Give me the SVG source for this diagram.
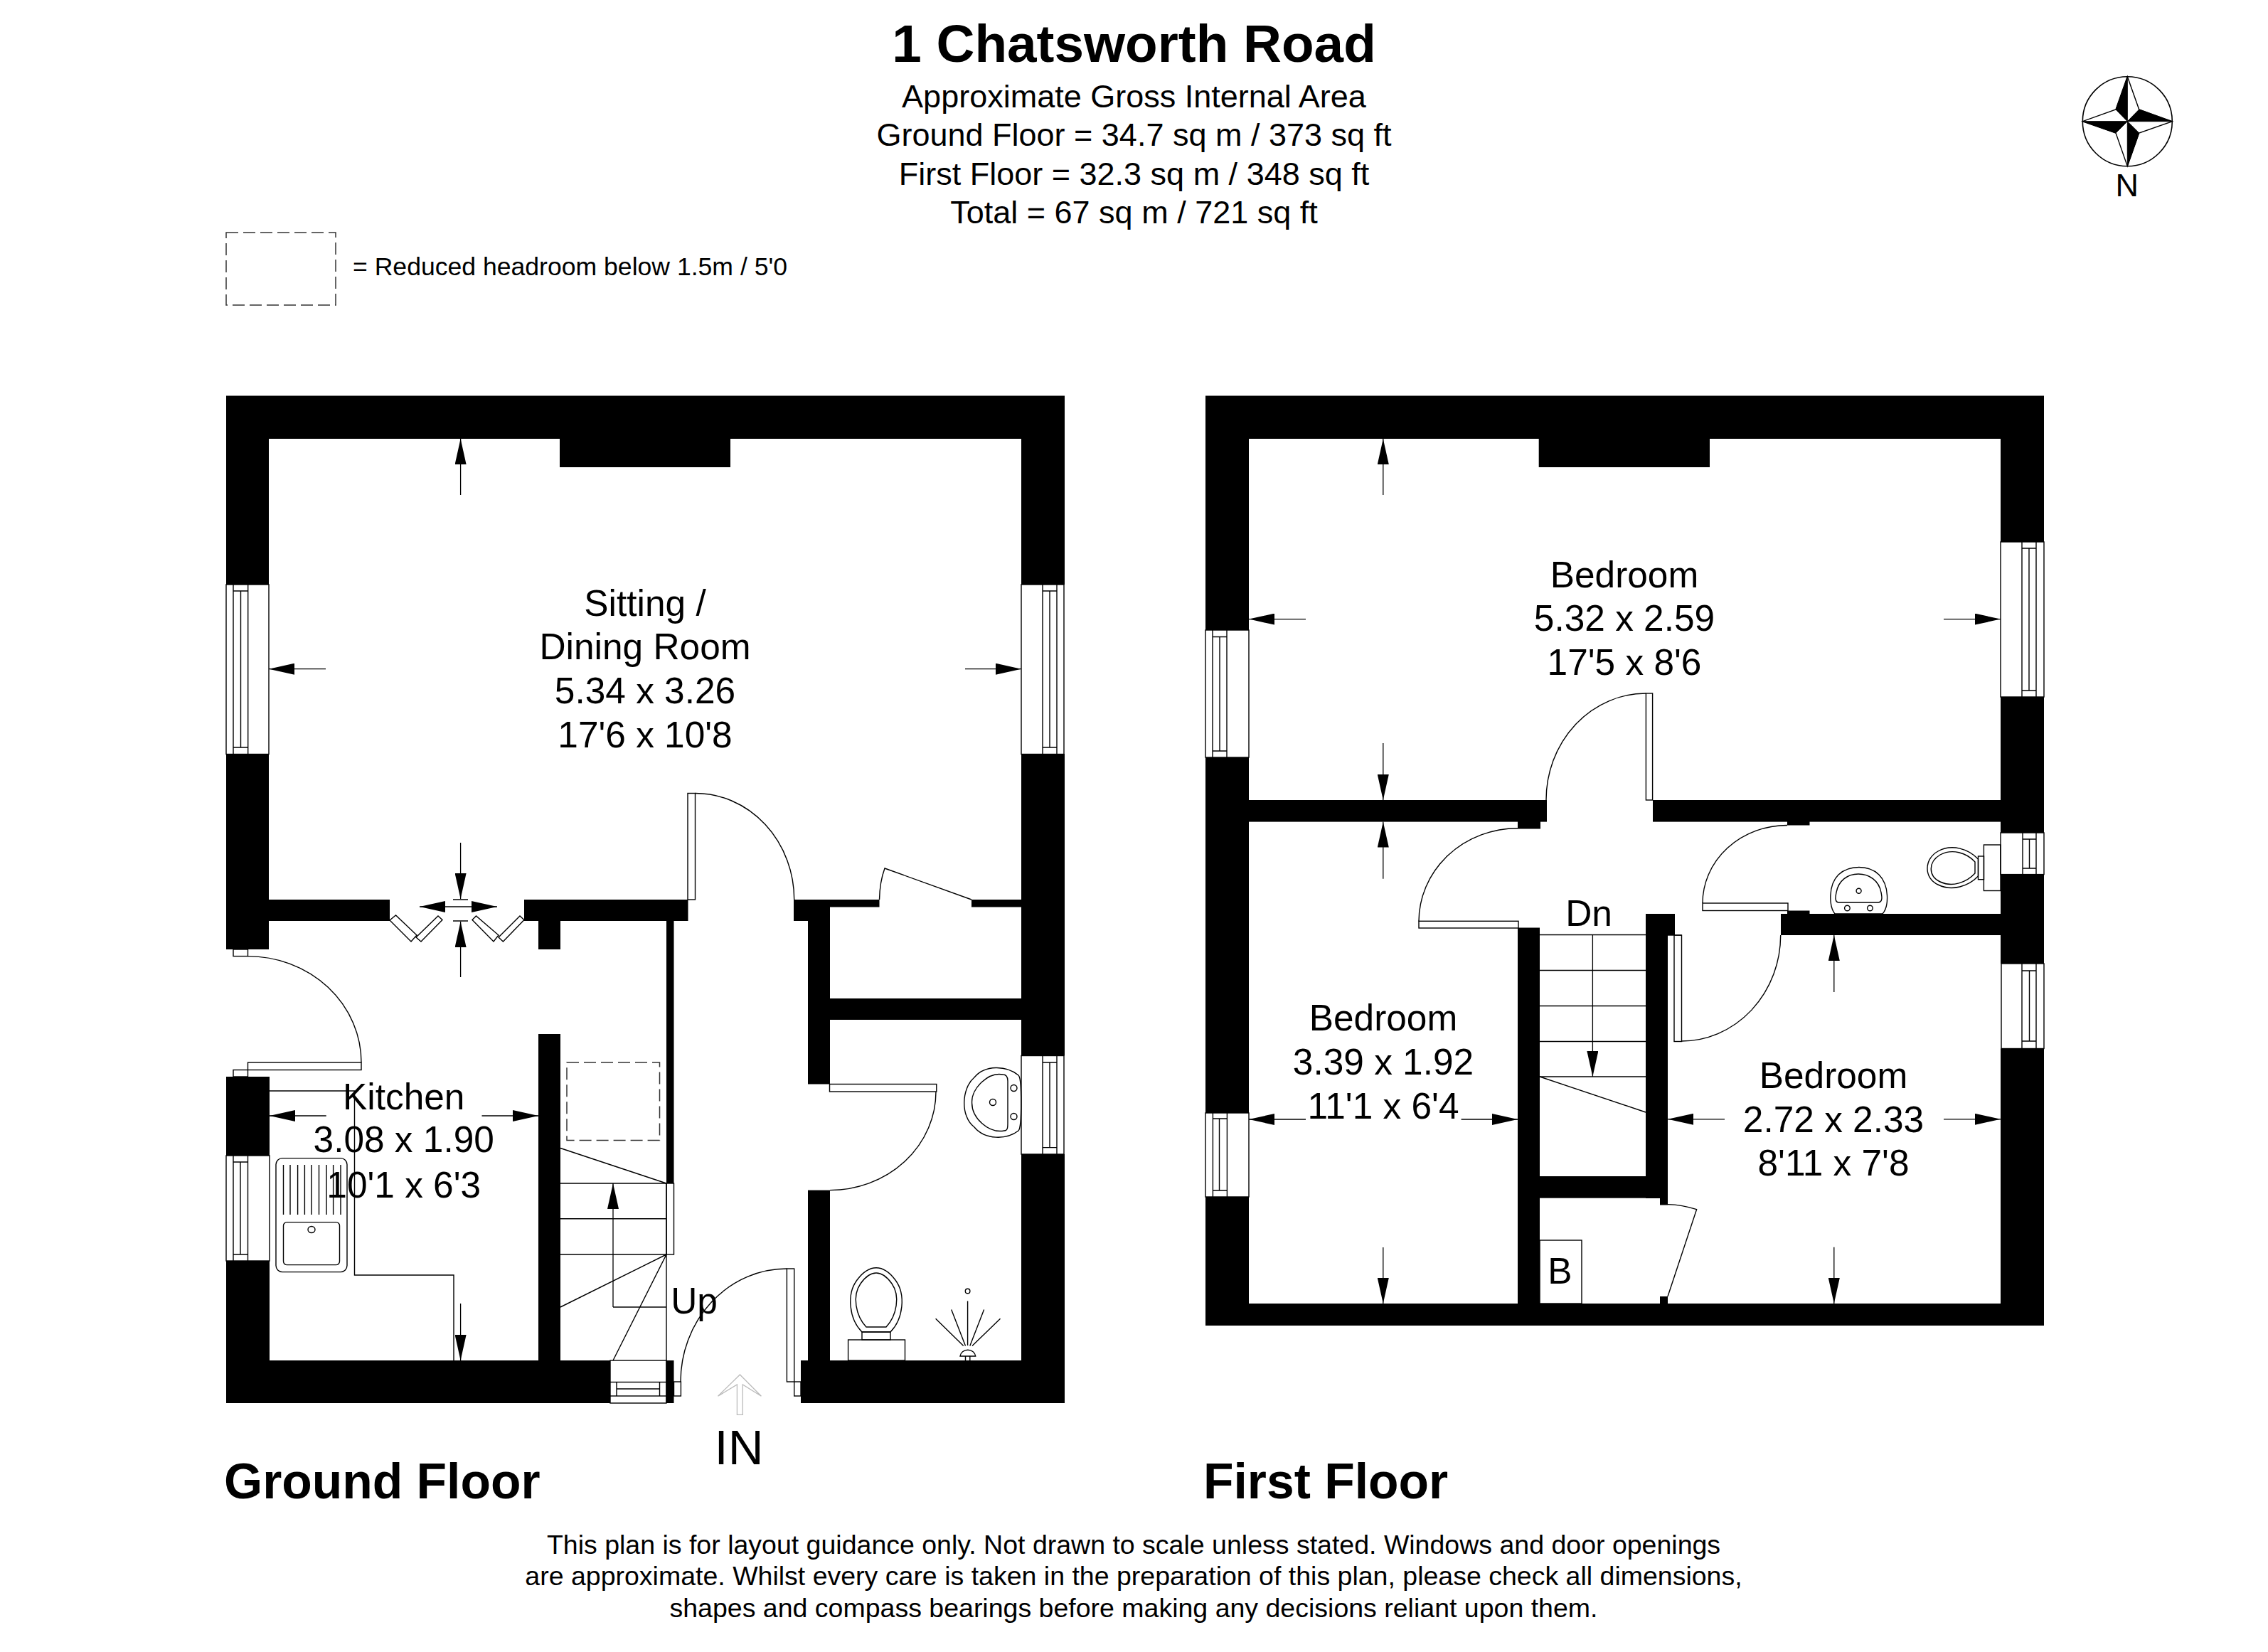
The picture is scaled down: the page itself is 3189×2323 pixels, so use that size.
<svg xmlns="http://www.w3.org/2000/svg" width="3189" height="2323" viewBox="0 0 3189 2323">
<style>
text{font-family:"Liberation Sans",Arial,sans-serif;fill:#000;text-anchor:middle}
.room{font-size:51.400px}
.sub{font-size:45px}
.foot{font-size:37.500px}
.key{font-size:35.600px;text-anchor:start}
.head{font-size:69.600px;font-weight:bold;text-anchor:start}
.wall rect{fill:#000}
.l,.l *{fill:none;stroke:#000;stroke-width:1.4}
.f,.f *{fill:#fff;stroke:#000;stroke-width:1.4}
.d{fill:none;stroke:#333;stroke-width:1.5;stroke-dasharray:17 7}
.dim{fill:none;stroke:#000;stroke-width:1.3;marker-end:url(#ah)}
</style>
<defs>
<marker id="ah" markerUnits="userSpaceOnUse" markerWidth="36" markerHeight="16" refX="36" refY="8" orient="auto"><path d="M0,0L36,8L0,16z" fill="#000"/></marker>
</defs>
<rect width="3189" height="2323" fill="#fff"/>

<g id="title">
<text x="1594.500" y="87" font-size="74.700" font-weight="bold">1 Chatsworth Road</text>
<text class="sub" x="1594.500" y="151">Approximate Gross Internal Area</text>
<text class="sub" x="1594.500" y="205">Ground Floor = 34.7 sq m / 373 sq ft</text>
<text class="sub" x="1594.500" y="260">First Floor = 32.3 sq m / 348 sq ft</text>
<text class="sub" x="1594.500" y="314">Total = 67 sq m / 721 sq ft</text>
</g>

<g id="legend">
<rect class="d" x="318" y="327" width="154" height="102"/>
<text class="key" x="496" y="387">= Reduced headroom below 1.5m / 5'0</text>
</g>

<g id="compass">
<circle cx="2991.300" cy="170.700" r="63" fill="none" stroke="#000" stroke-width="1.600"/>
<path d="M2991.300,107.700L2975,154L2928.300,170.700L2975,187L2991.300,233.700L3007.700,187L3054.300,170.700L3007.700,154Z" fill="#fff" stroke="#000" stroke-width="1.400"/>
<path d="M2991.300,107.700L2975,154L2991.300,170.700ZM2991.300,170.700L3007.700,154L3054.300,170.700ZM2991.300,170.700L3007.700,187L2991.300,233.700ZM2991.300,170.700L2975,187L2928.300,170.700Z" fill="#000" stroke="#000" stroke-width="1"/>
<text x="2990.700" y="276" font-size="45">N</text>
</g>

<g id="ground-floor">
<g class="wall">
<rect x="318" y="556.500" width="1179" height="60.500"/>
<rect x="318" y="617" width="60" height="205"/>
<rect x="318" y="1060" width="60" height="275"/>
<rect x="318" y="1514" width="61" height="111"/>
<rect x="318" y="1773" width="61" height="140"/>
<rect x="1436" y="617" width="61" height="205"/>
<rect x="1436" y="1060" width="61" height="424.500"/>
<rect x="1436" y="1623" width="61" height="290"/>
<rect x="318" y="1913" width="540" height="60"/>
<rect x="937" y="1913" width="10.500" height="60"/>
<rect x="1126" y="1913" width="371" height="60"/>
<rect x="787" y="617" width="240" height="40"/>
<rect x="318" y="1265" width="230" height="30"/>
<rect x="737" y="1265" width="230.500" height="30"/>
<rect x="757" y="1295" width="31" height="40"/>
<rect x="937" y="1295" width="10.500" height="369"/>
<rect x="757" y="1454" width="31" height="459"/>
<rect x="1116" y="1265" width="20" height="30"/>
<rect x="1116" y="1265" width="120.500" height="10.500"/>
<rect x="1366" y="1265" width="70" height="10.500"/>
<rect x="1136" y="1265" width="31" height="259.500"/>
<rect x="1136" y="1404" width="361" height="30"/>
<rect x="1136" y="1673.600" width="31" height="239.400"/>
</g>
<g id="gf-windows" class="f">
<rect x="318" y="822" width="60" height="238.500"/><rect x="328" y="822" width="20.700" height="238.500"/><path d="M338.500,831V1051M328,831H348.700M328,1051H348.700" fill="none"/>
<rect x="1436" y="822" width="60" height="238.500"/><rect x="1466" y="822" width="20" height="238.500"/><path d="M1476,831V1051M1466,831H1486M1466,1051H1486" fill="none"/>
<rect x="1436" y="1484.500" width="60" height="138.500"/><rect x="1466" y="1484.500" width="20" height="138.500"/><path d="M1476,1494V1613.600M1466,1494H1486M1466,1613.600H1486" fill="none"/>
<rect x="318" y="1625" width="61" height="148"/><rect x="328" y="1625" width="20.500" height="148"/><path d="M338,1634V1764M328,1634H348.500M328,1764H348.500" fill="none"/>
<rect x="858" y="1913" width="79" height="60"/><rect x="858" y="1943.500" width="79" height="19.500"/><path d="M867,1953H927.500M867,1943.500V1963M927.500,1943.500V1963" fill="none"/>
</g>
<g id="gf-doors">
<g class="f">
<rect x="328" y="1335" width="20.500" height="9.600"/>
<rect x="328" y="1504.500" width="20.500" height="9.500"/>
<rect x="348.500" y="1494" width="159.500" height="10.500"/>
<rect x="967" y="1115.500" width="10.500" height="149.500"/>
<rect x="1166.500" y="1524.500" width="150.300" height="10.500"/>
<rect x="1106.400" y="1784" width="10.300" height="159"/>
<rect x="1116.700" y="1943" width="9.300" height="20"/>
<rect x="947.500" y="1943" width="9.900" height="20"/>
<path d="M548,1294L578,1324L586,1315L556.500,1287Z"/>
<path d="M592,1324L622,1293.600L616,1288L585,1318Z"/>
<path d="M664,1293.600L694,1324L701,1315L669.500,1288Z"/>
<path d="M707.400,1324L737,1293.600L731,1288L701,1318Z"/>
</g>
<g class="l">
<path d="M348.500,1344.600A159.500,149.400 0 0 1 508,1494"/>
<path d="M977.500,1115.500A139.200,149.500 0 0 1 1116.700,1265"/>
<path d="M1316,1535A149,138.600 0 0 1 1167,1673.600"/>
<path d="M1106.400,1784A149.400,159 0 0 0 957,1943"/>
<path d="M1236.500,1265Q1237,1240 1244,1221L1366,1265"/>
</g>
</g>
<g id="gf-stairs" class="l">
<path d="M788,1664H937M788,1713.700H937M788,1764H937"/>
<path d="M788,1614.500L937,1664M788,1838L937,1764M862,1913L937,1764M937,1664V1973"/>
<rect x="937" y="1664" width="10.500" height="100"/>
<path d="M937,1838H862"/>
</g>
<rect id="gf-cupboard" class="d" x="797" y="1494" width="130.500" height="109.600"/>
<g id="gf-kitchen" class="l">
<path d="M379,1534H498.500V1793H638V1913"/>
<rect x="388" y="1628.600" width="100" height="160" rx="9"/>
<rect x="398.500" y="1718.600" width="79" height="60" rx="5"/>
<ellipse cx="438" cy="1729" rx="5" ry="4.500"/>
<path d="M398.500,1638V1708M408,1638V1708M418.600,1638V1708M428.400,1638V1708M438,1638V1708M448.500,1638V1708M459,1638V1708M468.600,1638V1708M479,1638V1708"/>
</g>
<g id="gf-bathroom" class="l">
<rect x="1192.600" y="1884" width="79.900" height="29"/>
<rect x="1212" y="1873" width="40" height="11"/>
<path d="M1212,1873C1194,1855 1190,1820 1205,1800C1222,1777 1242,1777 1259,1800C1274,1820 1270,1855 1252,1873Z"/>
<path d="M1218,1866C1203,1850 1198,1822 1210,1805C1224,1785 1240,1785 1254,1805C1266,1822 1261,1850 1246,1866Z"/>
<path d="M1360.600,1829.400V1892M1357.500,1892.400L1337.700,1841.500M1354.700,1892.400L1315.600,1854.200M1363.800,1892.400L1383.600,1841.500M1367,1892.400L1406.500,1854.200"/>
<path d="M1350,1907A10.900,9.700 0 0 1 1371.700,1907ZM1357.500,1907V1913M1363.800,1907V1913"/>
<circle cx="1360.600" cy="1815.500" r="3.300"/>
<path d="M1432,1512C1415,1498 1385,1497 1370,1515C1352,1530 1350,1570 1370,1585C1385,1603 1415,1603 1432,1590C1437,1585 1437,1516 1432,1512Z"/>
<path d="M1410,1511C1390,1507 1366,1530 1366.600,1550C1366,1572 1390,1594 1412,1590C1417,1590 1417,1585 1417,1580V1520C1417,1514 1415,1511 1410,1511Z"/>
<circle cx="1425.500" cy="1530" r="4.500"/><circle cx="1425.500" cy="1570" r="4.500"/><circle cx="1396" cy="1550" r="4.500"/>
</g>
<g id="gf-dimensions">
<path class="dim" d="M647.600,696V617"/>
<path class="dim" d="M458,940.700H378"/>
<path class="dim" d="M1357,940.700H1436"/>
<path class="dim" d="M647.600,1185V1264"/>
<path class="dim" d="M647.600,1374V1296"/>
<path class="dim" d="M644,1275H590"/>
<path class="dim" d="M644,1275H699"/>
<path class="l" d="M637,1265H658M637,1295H658"/>
<path class="dim" d="M458.700,1569H379"/>
<path class="dim" d="M677.500,1569H757"/>
<path class="dim" d="M862,1838V1664"/>
<path class="dim" d="M647.600,1833V1913"/>
</g>
<path id="in-arrow" d="M1040.400,1933L1009.500,1963.300L1036.400,1947V1989.400H1044.300V1947L1070.400,1963.300Z" fill="#fff" stroke="#bbb" stroke-width="1.300"/>
<g id="gf-labels">
<text class="room" x="907" y="866">Sitting /</text>
<text class="room" x="907" y="927">Dining Room</text>
<text class="room" x="907" y="989">5.34 x 3.26</text>
<text class="room" x="907" y="1051">17'6 x 10'8</text>
<text class="room" x="567.700" y="1560">Kitchen</text>
<text class="room" x="567.700" y="1620">3.08 x 1.90</text>
<text class="room" x="567.700" y="1683.500">10'1 x 6'3</text>
<text class="room" x="976" y="1847">Up</text>
<text x="1039" y="2059" font-size="69">IN</text>
<text class="head" x="315" y="2107">Ground Floor</text>
</g>
</g>

<g id="first-floor">
<g class="wall">
<rect x="1695" y="556.500" width="1179" height="60.500"/>
<rect x="1695" y="617" width="61" height="269"/>
<rect x="1695" y="1065" width="61" height="500"/>
<rect x="1695" y="1683" width="61" height="150"/>
<rect x="2813" y="617" width="61" height="145"/>
<rect x="2813" y="980" width="61" height="191"/>
<rect x="2813" y="1229.600" width="61" height="125.400"/>
<rect x="2813" y="1474.500" width="61" height="359"/>
<rect x="1695" y="1833" width="1179" height="31"/>
<rect x="2163.700" y="617" width="240.300" height="40"/>
<rect x="1695" y="1125" width="480" height="30.600"/>
<rect x="2324" y="1125" width="550" height="30.600"/>
<rect x="2134" y="1155" width="32" height="10.500"/>
<rect x="2134" y="1304.500" width="31" height="529"/>
<rect x="2314" y="1285" width="41" height="30"/>
<rect x="2314" y="1315" width="31" height="370"/>
<rect x="2134" y="1654" width="211" height="30.700"/>
<rect x="2513" y="1155" width="31.500" height="5.500"/>
<rect x="2513" y="1280.500" width="31.500" height="5"/>
<rect x="2504" y="1285" width="370" height="30"/>
<rect x="2334" y="1684" width="11" height="10.500"/>
<rect x="2334" y="1823" width="11" height="10"/>
</g>
<g id="ff-windows" class="f">
<rect x="1695" y="886" width="61" height="179"/><rect x="1705" y="886" width="20" height="179"/><path d="M1715,895.500V1056M1705,895.500H1725M1705,1056H1725" fill="none"/>
<rect x="2813" y="762" width="61" height="218"/><rect x="2843" y="762" width="20" height="218"/><path d="M2853,771V971M2843,771H2863M2843,971H2863" fill="none"/>
<rect x="2813" y="1171" width="61" height="58.600"/><rect x="2844" y="1171" width="19" height="58.600"/><path d="M2853.500,1180V1221M2844,1180H2863M2844,1221H2863" fill="none"/>
<rect x="2814" y="1355" width="60" height="119.500"/><rect x="2843" y="1355" width="20" height="119.500"/><path d="M2853.500,1365V1464M2843,1365H2863M2843,1464H2863" fill="none"/>
<rect x="1695" y="1565" width="61" height="118"/><rect x="1705.400" y="1565" width="20" height="118"/><path d="M1714.500,1573V1674M1705.400,1573H1725.400M1705.400,1674H1725.400" fill="none"/>
</g>
<g id="ff-doors">
<g class="f">
<rect x="2314.400" y="975" width="9.200" height="150"/>
<rect x="1995" y="1295.300" width="140" height="9.700"/>
<rect x="2394" y="1270" width="120" height="10.500"/>
<rect x="2354" y="1315" width="10.500" height="149.500"/>
<path d="M2345,1315H2364.500" fill="none"/>
</g>
<g class="l">
<path d="M2314.400,975A140.400,150 0 0 0 2174,1125"/>
<path d="M2134,1164.700A139,131 0 0 0 1995,1295.600"/>
<path d="M2513,1160.500A119,109.500 0 0 0 2394,1270"/>
<path d="M2364,1464A139.700,149 0 0 0 2503.700,1315"/>
<path d="M2345,1693.600Q2365,1694 2385.600,1700.700L2345,1823"/>
</g>
</g>
<g id="ff-stairs" class="l">
<path d="M2165,1314.500H2314M2165,1364.500H2314M2165,1414.500H2314M2165,1464.500H2314M2165,1514H2314"/>
<path d="M2165,1514L2314,1564"/>
</g>
<g id="ff-fittings" class="l">
<rect x="2789.400" y="1188" width="23.600" height="64.500"/>
<rect x="2781.500" y="1204" width="8" height="32.700"/>
<path d="M2781.500,1208C2768,1194 2745,1186 2725,1197C2705,1208 2705,1235 2725,1244C2745,1254 2768,1246 2781.500,1232Z"/>
<path d="M2777,1212C2765,1199 2745,1193 2728,1202C2711,1212 2711,1232 2728,1240C2745,1248 2765,1241 2777,1228Z"/>
<path d="M2580,1285C2572,1275 2570,1245 2585,1230C2600,1216 2628,1216 2642,1230C2657,1245 2656,1275 2647,1285Z"/>
<path d="M2586,1269H2640C2648,1269 2646,1260 2645,1255C2642,1238 2628,1229 2613,1229C2598,1229 2585,1238 2582,1255C2581,1260 2579,1269 2586,1269Z"/>
<circle cx="2613.600" cy="1252.800" r="3.500"/>
<circle cx="2597.400" cy="1277" r="3.800"/><circle cx="2629.400" cy="1277" r="3.800"/>
<rect x="2165" y="1744" width="59" height="89"/>
</g>
<g id="ff-dimensions">
<path class="dim" d="M1944.800,696V617"/>
<path class="dim" d="M1836,870.600H1756"/>
<path class="dim" d="M2733,870.600H2813"/>
<path class="dim" d="M1944.800,1045V1125"/>
<path class="dim" d="M1944.800,1235.700V1155.600"/>
<path class="dim" d="M1836,1574H1756"/>
<path class="dim" d="M2054.600,1574H2134"/>
<path class="dim" d="M1944.800,1754V1833"/>
<path class="dim" d="M2239.400,1314.500V1514"/>
<path class="dim" d="M2578.800,1395V1315"/>
<path class="dim" d="M2425,1573.800H2345"/>
<path class="dim" d="M2733,1573.800H2813"/>
<path class="dim" d="M2578.800,1753.700V1833"/>
</g>
<g id="ff-labels">
<text class="room" x="2284" y="826">Bedroom</text>
<text class="room" x="2284" y="887">5.32 x 2.59</text>
<text class="room" x="2284" y="949">17'5 x 8'6</text>
<text class="room" x="1945" y="1449">Bedroom</text>
<text class="room" x="1945" y="1511">3.39 x 1.92</text>
<text class="room" x="1945" y="1573">11'1 x 6'4</text>
<text class="room" x="2578" y="1530">Bedroom</text>
<text class="room" x="2578" y="1591.500">2.72 x 2.33</text>
<text class="room" x="2578" y="1652.500">8'11 x 7'8</text>
<text class="room" x="2234" y="1302">Dn</text>
<text class="room" x="2193.500" y="1805">B</text>
<text class="head" x="1692" y="2107">First Floor</text>
</g>
</g>

<g id="disclaimer">
<text class="foot" x="1594" y="2184.500">This plan is for layout guidance only. Not drawn to scale unless stated. Windows and door openings</text>
<text class="foot" x="1594" y="2228.500">are approximate. Whilst every care is taken in the preparation of this plan, please check all dimensions,</text>
<text class="foot" x="1594" y="2273.500">shapes and compass bearings before making any decisions reliant upon them.</text>
</g>
</svg>
